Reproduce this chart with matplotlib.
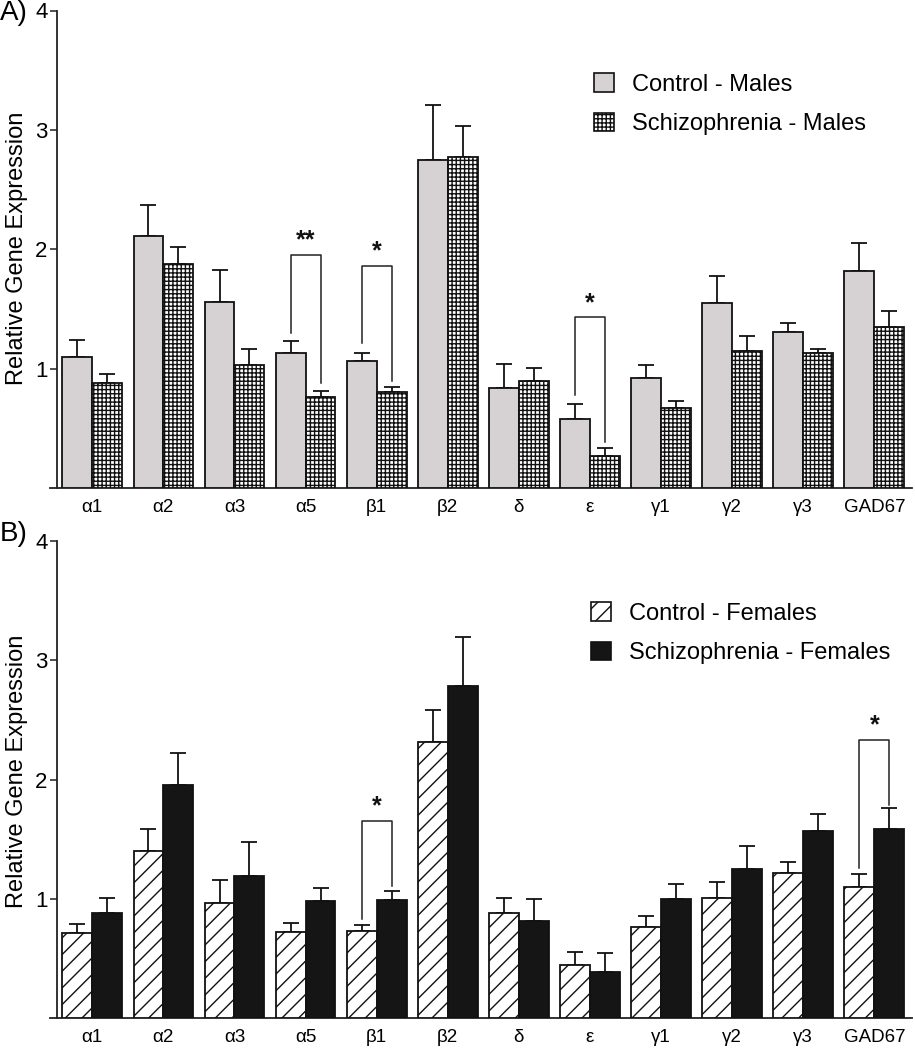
import matplotlib
matplotlib.use("Agg")
import matplotlib.pyplot as plt
from matplotlib.patches import Patch
import numpy as np

plt.rcParams['font.family'] = ['Liberation Sans', 'DejaVu Sans']
plt.rcParams['hatch.linewidth'] = 1.0

genes = ['α1', 'α2', 'α3', 'α5', 'β1', 'β2', 'δ', 'ε', 'γ1', 'γ2', 'γ3', 'GAD67']

# Panel A - males
ctrl_m = [1.10, 2.11, 1.56, 1.13, 1.06, 2.75, 0.84, 0.58, 0.92, 1.55, 1.31, 1.82]
ctrl_m_err = [0.14, 0.26, 0.27, 0.105, 0.075, 0.46, 0.20, 0.12, 0.11, 0.23, 0.075, 0.23]
schz_m = [0.877, 1.879, 1.028, 0.765, 0.804, 2.775, 0.896, 0.268, 0.67, 1.147, 1.128, 1.346]
schz_m_err = [0.078, 0.14, 0.14, 0.05, 0.044, 0.257, 0.112, 0.07, 0.059, 0.126, 0.039, 0.134]

# Panel B - females
ctrl_f = [0.718, 1.405, 0.964, 0.723, 0.729, 2.31, 0.883, 0.447, 0.768, 1.011, 1.215, 1.098]
ctrl_f_err = [0.072, 0.179, 0.195, 0.073, 0.051, 0.274, 0.128, 0.108, 0.09, 0.132, 0.095, 0.114]
schz_f = [0.885, 1.956, 1.193, 0.986, 0.994, 2.785, 0.818, 0.388, 0.997, 1.251, 1.57, 1.589]
schz_f_err = [0.121, 0.27, 0.285, 0.109, 0.076, 0.405, 0.185, 0.162, 0.131, 0.193, 0.142, 0.171]

# significance brackets: (gene index, bracket top, left leg bottom, right leg bottom, label)
sig_m = [(3, 1.955, 1.30, 0.88, '**'), (4, 1.862, 1.212, 0.896, '*'), (7, 1.43, 0.779, 0.388, '*')]
sig_f = [(4, 1.651, 0.83, 1.109, '*'), (11, 2.333, 1.257, 1.788, '*')]

W = 915
H = 1050
fig = plt.figure(figsize=(W / 100, H / 100), dpi=100)

def fig_rect(x0, x1, y_top, y_bot):
    return [x0 / W, 1 - y_bot / H, (x1 - x0) / W, (y_bot - y_top) / H]

axA = fig.add_axes(fig_rect(50, 912, 10.5, 488))
axB = fig.add_axes(fig_rect(50, 912, 540.7, 1018.3))

bw = 0.42
x = np.arange(len(genes))
edge = '#111111'

def draw(ax, c, ce, s, se, cstyle, sstyle, sig, labels, leg_xy):
    ax.bar(x - bw / 2, c, bw, edgecolor=edge, linewidth=1.3, zorder=3, **cstyle)
    ax.bar(x + bw / 2, s, bw, edgecolor=edge, linewidth=1.3, zorder=3, **sstyle)
    zeros = [0] * len(genes)
    ax.errorbar(x - bw / 2, c, yerr=[zeros, ce], fmt='none', ecolor=edge,
                elinewidth=1.3, capsize=5.8, capthick=1.3, zorder=2)
    ax.errorbar(x + bw / 2, s, yerr=[zeros, se], fmt='none', ecolor=edge,
                elinewidth=1.3, capsize=5.8, capthick=1.3, zorder=2)
    for i, top, lb, rb, lab in sig:
        xl, xr = i - bw / 2, i + bw / 2
        ax.plot([xl, xl, xr, xr], [lb, top, top, rb], color='#222222', lw=1.1, zorder=4)
        ax.text(i, top + 0.02, lab, ha='center', va='bottom', fontsize=18,
                fontweight='bold', color='#111111')
    ax.set_xlim(-0.595, 11.53)
    ax.set_ylim(0, 4)
    ax.spines['left'].set_position(('data', -0.5))
    for sp in ['top', 'right']:
        ax.spines[sp].set_visible(False)
    for sp in ['left', 'bottom']:
        ax.spines[sp].set_linewidth(1.3)
        ax.spines[sp].set_color('#222222')
    ax.set_yticks([1, 2, 3, 4])
    ax.set_yticklabels(['1', '2', '3', '4'])
    ax.tick_params(axis='y', length=5, width=1.1, pad=1.5, labelsize=16, color='#222222')
    ax.set_xticks(x)
    ax.set_xticklabels(genes)
    ax.tick_params(axis='x', length=0, pad=8, labelsize=13.5)
    handles = [Patch(edgecolor=edge, linewidth=1.2, **cstyle),
               Patch(edgecolor=edge, linewidth=1.2, **sstyle)]
    ax.legend(handles, labels, loc='upper left', bbox_to_anchor=leg_xy,
              bbox_transform=fig.transFigure, frameon=False, borderpad=0,
              borderaxespad=0, handlelength=0.85, handleheight=0.85,
              handletextpad=0.75, labelspacing=0.72, fontsize=17)

draw(axA, ctrl_m, ctrl_m_err, schz_m, schz_m_err,
     dict(facecolor='#d6d1d3'), dict(facecolor='white', hatch='++++'),
     sig_m, ['Control - Males', 'Schizophrenia - Males'], (594 / W, 1 - 73 / H))
draw(axB, ctrl_f, ctrl_f_err, schz_f, schz_f_err,
     dict(facecolor='white', hatch='//'), dict(facecolor='#151515'),
     sig_f, ['Control - Females', 'Schizophrenia - Females'], (591 / W, 1 - 602 / H))

fig.text(17 / W, 1 - 248 / H, 'Relative Gene Expression', rotation=90,
         ha='center', va='center', fontsize=17)
fig.text(17 / W, 1 - 771 / H, 'Relative Gene Expression', rotation=90,
         ha='center', va='center', fontsize=17)
fig.text(0 / W, 1 - 0 / H, 'A)', ha='left', va='top', fontsize=20)
fig.text(0 / W, 1 - 521 / H, 'B)', ha='left', va='top', fontsize=20)

fig.savefig('out.png', dpi=100)
